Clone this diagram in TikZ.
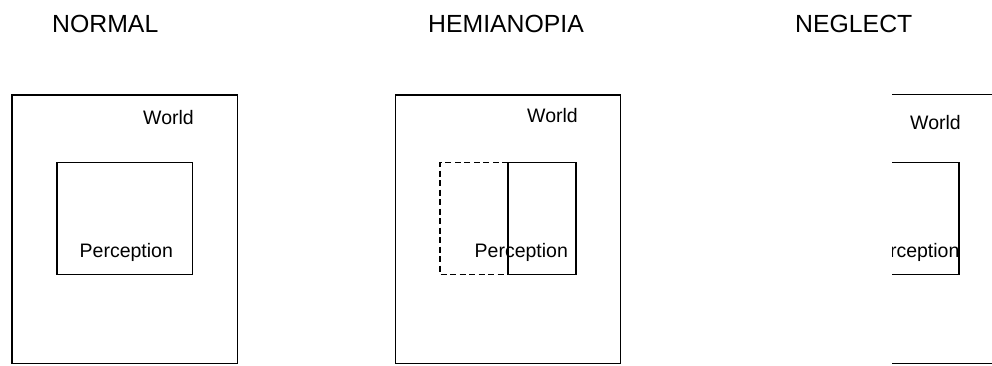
\documentclass[tikz,border=0pt]{standalone}
\usepackage{fontspec}
\setmainfont{Liberation Sans}
\begin{document}
\begin{tikzpicture}[x=1pt,y=-1pt,
  box/.style={draw=black,line width=1.4pt},
  dashbox/.style={draw=black,line width=1.4pt,dash pattern=on 6pt off 3.5pt},
  title/.style={anchor=base west,inner sep=0pt,font=\fontsize{24.8}{28}\selectfont},
  lbl/.style={anchor=base west,inner sep=0pt,font=\fontsize{19.5}{23}\selectfont}]
\useasboundingbox (0,0) rectangle (992,365);
% titles
\node[title] (tnormal) at (52,32) {NORMAL};
\node[title] (themi) at (428,32) {HEMIANOPIA};
\node[title] (tneglect) at (795,32) {NEGLECT};
% NORMAL
\draw[box] (12,95) rectangle (237.5,363.5);
\draw[box] (57,162.5) rectangle (192.5,274.5);
\node[lbl] (wnormal) at (143,124) {World};
\node[lbl] (pnormal) at (79.5,257) {Perception};
% HEMIANOPIA
\draw[box] (395.5,95) rectangle (620.5,363.5);
\draw[dashbox] (508,162.5) -- (440,162.5) -- (440,274.5) -- (508,274.5);
\draw[box] (508,162.5) rectangle (576,274.5);
\node[lbl] (whemi) at (527,122) {World};
\node[lbl] (phemi) at (474.5,257) {Perception};
% NEGLECT
\begin{scope}
\clip (892,0) rectangle (992,365);
\draw[box] (779,94.5) rectangle (1004,363.5);
\draw[box] (824,162.5) rectangle (959,274.5);
\node[lbl] (wneglect) at (910,129) {World};
\node[lbl] (pneglect) at (866,257) {Perception};
\end{scope}
\end{tikzpicture}
\end{document}
